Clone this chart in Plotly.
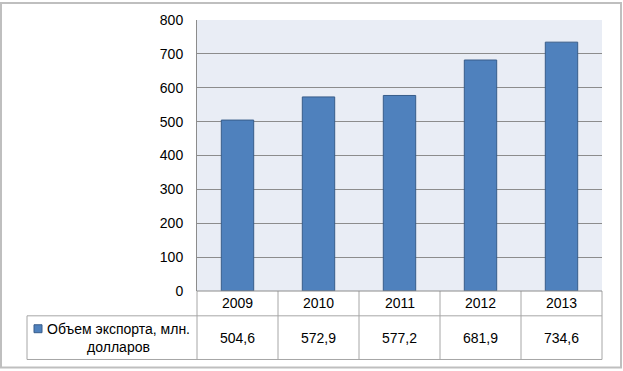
import plotly.graph_objects as go

years = ["2009", "2010", "2011", "2012", "2013"]
values = [504.6, 572.9, 577.2, 681.9, 734.6]
value_labels = ["504,6", "572,9", "577,2", "681,9", "734,6"]
series_name = "Объем экспорта, млн.<br>долларов"
y_ticks = [0, 100, 200, 300, 400, 500, 600, 700, 800]

W, H = 623, 371
L, R, T, B = 197, 602, 18, 291
PW, PH = R - L, B - T

def px(p):
    return (p - L) / PW

def py(p):
    return (B - p) / PH

FONT = "Liberation Sans, Arial, sans-serif"
GRID = "#8C8C8C"
TBL = "#A6A6A6"

fig = go.Figure()
fig.add_trace(go.Bar(
    x=years, y=values, width=0.4,
    marker=dict(color="#4F81BD", line=dict(color="#385D8A", width=1)),
    showlegend=False, hoverinfo="x+y",
))

shapes = []
shapes.append(dict(type="line", xref="paper", yref="paper", x0=px(27), x1=1, y0=py(316), y1=py(316), line=dict(color=TBL, width=1)))
shapes.append(dict(type="line", xref="paper", yref="paper", x0=px(27), x1=1, y0=py(360), y1=py(360), line=dict(color=TBL, width=1)))
shapes.append(dict(type="line", xref="paper", yref="paper", x0=px(27), x1=px(27), y0=py(316), y1=py(360), line=dict(color=TBL, width=1)))
shapes.append(dict(type="line", xref="paper", yref="paper", x0=0, x1=0, y0=0, y1=py(360), line=dict(color=TBL, width=1)))
shapes.append(dict(type="line", xref="paper", yref="paper", x0=1, x1=1, y0=0, y1=py(360), line=dict(color=TBL, width=1)))
for i in range(len(years) - 1):
    shapes.append(dict(type="line", xref="x", yref="paper", x0=i + 0.5, x1=i + 0.5, y0=0, y1=py(360), line=dict(color=TBL, width=1)))
shapes.append(dict(type="line", xref="paper", yref="paper", x0=0, x1=1, y0=0, y1=0, line=dict(color=GRID, width=1)))
shapes.append(dict(type="rect", xref="paper", yref="paper", x0=px(34), x1=px(42), y0=py(333), y1=py(325),
                   fillcolor="#4F81BD", line=dict(color="#385D8A", width=1)))
shapes.append(dict(type="rect", xref="paper", yref="paper", x0=px(1), x1=px(621), y0=py(368), y1=py(1),
                   line=dict(color="#BFBFBF", width=2)))

annotations = []
for i, (yr, vl) in enumerate(zip(years, value_labels)):
    annotations.append(dict(x=i, xref="x", y=py(303.5), yref="paper", text=yr, showarrow=False,
                            font=dict(family=FONT, size=14, color="#000"), xanchor="center", yanchor="middle"))
    annotations.append(dict(x=i, xref="x", y=py(338), yref="paper", text=vl, showarrow=False,
                            font=dict(family=FONT, size=14, color="#000"), xanchor="center", yanchor="middle"))
annotations.append(dict(x=px(118), xref="paper", y=py(338), yref="paper", text=series_name, showarrow=False,
                        align="center", font=dict(family=FONT, size=14, color="#000"),
                        xanchor="center", yanchor="middle"))

fig.update_layout(
    width=W, height=H,
    margin=dict(l=L, r=W - R, t=T, b=H - B, pad=0),
    paper_bgcolor="white",
    plot_bgcolor="#E9EDF5",
    font=dict(family=FONT, size=14, color="#000"),
    xaxis=dict(type="category", showticklabels=False, showgrid=False, zeroline=False, ticks="", range=[-0.5, 4.5]),
    yaxis=dict(range=[0, 800], tickvals=y_ticks, showgrid=True, gridcolor=GRID, gridwidth=1,
               zeroline=False, showline=True, linecolor=GRID, linewidth=1, ticks="",
               ticklabelstandoff=10, tickfont=dict(family=FONT, size=14, color="#000")),
    bargap=0.6,
    shapes=shapes,
    annotations=annotations,
)

fig.write_html("out.html", config={"displayModeBar": False},
               post_script="document.body.style.margin='0';document.body.style.padding='0';")
